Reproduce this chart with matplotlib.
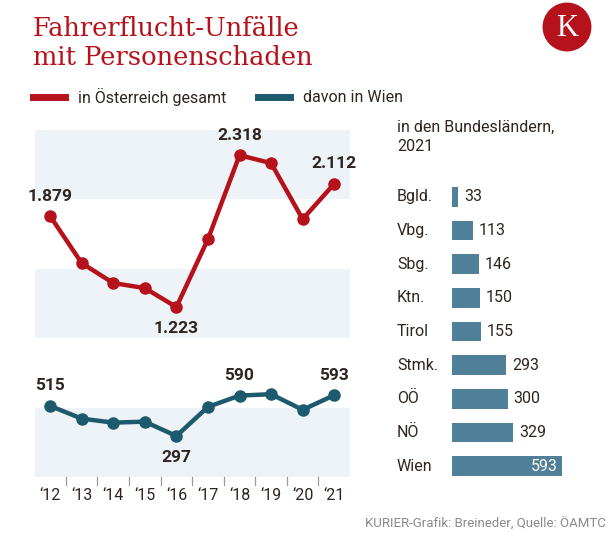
import numpy as np
import matplotlib.pyplot as plt
from matplotlib.patches import Circle

plt.rcParams['font.family'] = ['Roboto', 'DejaVu Sans']

W, H = 616, 547

# data
years = np.arange(2012, 2022)
year_labels = ["\u201812", "\u201813", "\u201814", "\u201815", "\u201816",
               "\u201817", "\u201818", "\u201819", "\u201820", "\u201821"]
oesterreich = [1879, 1540, 1396, 1360, 1223, 1713, 2318, 2261, 1857, 2112]
wien = [515, 423, 394, 401, 297, 508, 590, 600, 487, 593]
labelled_at = {0: 'above', 4: 'below', 6: 'above', 9: 'above'}

laender = ["Bgld.", "Vbg.", "Sbg.", "Ktn.", "Tirol", "Stmk.", "OÖ", "NÖ", "Wien"]
laender_werte = [33, 113, 146, 150, 155, 293, 300, 329, 593]

RED = '#b5121b'
TEAL = '#1d5a6e'
BAR = '#4f8097'
BAND = '#edf3f6'
TXT = '#2e2520'
GREY = '#8a8a8a'


def box(x0, y0, x1, y1):
    # pixel box -> figure fraction rect
    return [x0 / W, 1 - y1 / H, (x1 - x0) / W, (y1 - y0) / H]


fig = plt.figure(figsize=(W / 100, H / 100), dpi=100)

# title (baseline of the last line) and logo
fig.text(33 / W, 1 - 65 / H, "Fahrerflucht-Unfälle\nmit Personenschaden",
         family='DejaVu Serif', fontsize=18.5, color=RED, va='baseline', ha='left',
         linespacing=1.2, multialignment='left')
lax = fig.add_axes(box(540, 2, 594, 52))
lax.set_xlim(-1, 1); lax.set_ylim(-1, 1); lax.set_aspect('equal'); lax.axis('off')
lax.add_patch(Circle((0, 0), 0.95, color=RED))
lax.text(0, -0.04, "K", family='Liberation Serif', fontsize=22, color='white',
         ha='center', va='center')

# legend
fig.add_artist(plt.Line2D([33 / W, 65 / W], [1 - 97 / H] * 2, color=RED, lw=5))
fig.text(78 / W, 1 - 97 / H, "in Österreich gesamt", fontsize=11.5, color=TXT, va='center')
fig.add_artist(plt.Line2D([258 / W, 290 / W], [1 - 97 / H] * 2, color=TEAL, lw=5))
fig.text(303 / W, 1 - 97 / H, "davon in Wien", fontsize=11.5, color=TXT, va='center')

xlim = (2011.52, 2021.5)

# upper part: Austria total (1000-2500)
ax1 = fig.add_axes(box(35, 130, 350, 338))
ax1.set_xlim(*xlim); ax1.set_ylim(1000, 2500)
ax1.axhspan(2000, 2500, color=BAND, lw=0)
ax1.axhspan(1000, 1500, color=BAND, lw=0)
ax1.plot(years, oesterreich, color=RED, lw=3.2, marker='o', ms=8, clip_on=False)
ax1.axis('off')

# lower part: Vienna (0-500), same scale
ax2 = fig.add_axes(box(35, 408, 350, 477))
ax2.set_xlim(*xlim); ax2.set_ylim(0, 500)
ax2.axhspan(0, 500, color=BAND, lw=0)
ax2.plot(years, wien, color=TEAL, lw=3.2, marker='o', ms=8, clip_on=False)
ax2.axis('off')

for ax, vals in ((ax1, oesterreich), (ax2, wien)):
    for i, pos in labelled_at.items():
        txt = f"{vals[i]:,}".replace(',', '.')
        off = 9 if pos == 'above' else -10
        ax.annotate(txt, (years[i], vals[i]), xytext=(0, off), textcoords='offset points',
                    ha='center', va='bottom' if pos == 'above' else 'top',
                    fontsize=12.5, fontweight='bold', color=TXT, annotation_clip=False)

# year ticks between the years, labels below
for x in years[:-1] + 0.5:
    ax2.plot([x, x], [0, -8 / 69], transform=ax2.get_xaxis_transform(),
             color='#9a9a9a', lw=0.9, clip_on=False)
for x, lab in zip(years, year_labels):
    ax2.annotate(lab, (x, 0), xycoords=ax2.get_xaxis_transform(), xytext=(0, -18),
                 textcoords='offset pixels', ha='center', va='center',
                 fontsize=11.5, color=TXT, annotation_clip=False)

# bar chart by federal state
fig.text(397 / W, 1 - 120 / H, "in den Bundesländern,\n2021", fontsize=11.5, color=TXT,
         va='top', ha='left', linespacing=1.3)
bax = fig.add_axes(box(452, 180, 616, 483))
n = len(laender)
ypos = np.arange(n)
bax.barh(ypos, laender_werte, height=0.58, color=BAR)
bax.set_xlim(0, 593 * 164 / 110)
bax.set_ylim(n - 0.5, -0.5)
bax.axis('off')
for y, name, v in zip(ypos, laender, laender_werte):
    bax.annotate(name, (0, y), xytext=(-55, 0), textcoords='offset pixels',
                 ha='left', va='center', fontsize=11.5, color=TXT, annotation_clip=False)
    if name == 'Wien':
        bax.annotate(str(v), (v, y), xytext=(-4, 0), textcoords='offset pixels',
                     ha='right', va='center', fontsize=11.5, color='white')
    else:
        bax.annotate(str(v), (v, y), xytext=(6, 0), textcoords='offset pixels',
                     ha='left', va='center', fontsize=11.5, color=TXT)

fig.text(606 / W, 1 - 524 / H, "KURIER-Grafik: Breineder, Quelle: ÖAMTC",
         fontsize=9.5, color=GREY, ha='right', va='center')

fig.savefig('out.png', dpi=100)
